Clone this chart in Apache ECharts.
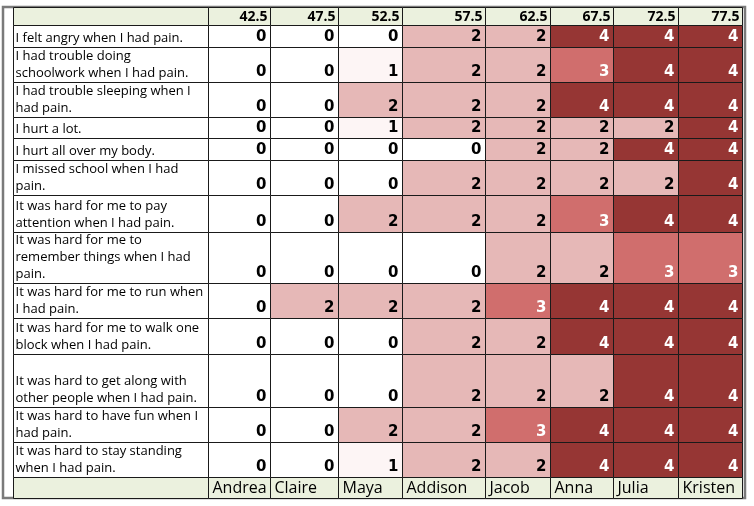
<!DOCTYPE html>
<html><head><meta charset="utf-8">
<script src="https://cdn.jsdelivr.net/npm/echarts@6/dist/echarts.min.js"></script>
<style>html,body{margin:0;padding:0;background:#fff}#c{width:754px;height:506px}</style>
</head><body><div id="c"></div>
<script>
// ---- data ----
const names = ['Andrea','Claire','Maya','Addison','Jacob','Anna','Julia','Kristen'];
const tickLabels = ['42.5','47.5','52.5','57.5','62.5','67.5','72.5','77.5'];
const items = [
  'I felt angry when I had pain.',
  'I had trouble doing\nschoolwork when I had pain.',
  'I had trouble sleeping when I\nhad pain.',
  'I hurt a lot.',
  'I hurt all over my body.',
  'I missed school when I had\npain.',
  'It was hard for me to pay\nattention when I had pain.',
  'It was hard for me to\nremember things when I had\npain.',
  'It was hard for me to run when\nI had pain.',
  'It was hard for me to walk one\nblock when I had pain.',
  'It was hard to get along with\nother people when I had pain.',
  'It was hard to have fun when I\nhad pain.',
  'It was hard to stay standing\nwhen I had pain.'
];
const angry      = [0,0,0,2,2,4,4,4];
const schoolwork = [0,0,1,2,2,3,4,4];
const sleeping   = [0,0,2,2,2,4,4,4];
const hurtLot    = [0,0,1,2,2,2,2,4];
const hurtAll    = [0,0,0,0,2,2,4,4];
const missed     = [0,0,0,2,2,2,2,4];
const attention  = [0,0,2,2,2,3,4,4];
const remember   = [0,0,0,0,2,2,3,3];
const run        = [0,2,2,2,3,4,4,4];
const walk       = [0,0,0,2,2,4,4,4];
const getAlong   = [0,0,0,2,2,2,4,4];
const fun        = [0,0,2,2,3,4,4,4];
const standing   = [0,0,1,2,2,4,4,4];
const scores = [angry,schoolwork,sleeping,hurtLot,hurtAll,missed,attention,remember,run,walk,getAlong,fun,standing];

// ---- layout (table geometry, in axis units) ----
const colWidths = [195,62,68,64,83,65,63,65,64];
const rowHeights = [18,22,35,35,21,22,35,37,51,35,36,53,35,35,21];
function edges(a){const e=[0];a.forEach(w=>e.push(e[e.length-1]+w));return e;}
const xE = edges(colWidths), yE = edges(rowHeights);
const colors = ['#ffffff','#fdf5f5','#e6b8b7','#d06e6d','#963634'];
const green = '#ebf1de';

function rectOf(api,c,r){
  const p0 = api.coord([xE[c], yE[r]]), p1 = api.coord([xE[c+1], yE[r+1]]);
  const x = Math.round(Math.min(p0[0],p1[0]))+0.5, y = Math.round(Math.min(p0[1],p1[1]))+0.5;
  return {x:x, y:y, width:Math.round(Math.abs(p1[0]-p0[0])), height:Math.round(Math.abs(p1[1]-p0[1]))};
}
const lineStroke = {stroke:'#1a1a1a', lineWidth:1};

const cellData = [];
scores.forEach((row,i)=>row.forEach((v,j)=>cellData.push([j,i,v])));
const headerData = tickLabels.map((t,j)=>[j,t]);
const footerData = names.map((n,j)=>[j,n]);
const labelData = items.map((t,i)=>[i,t]);

const option = {
  animation:false,
  grid:[{left:13,right:12,top:7,bottom:8,show:false},
        {left:3,right:9,top:7,bottom:8,show:true,borderColor:'#7a7a7a',borderWidth:2.5}],
  xAxis:[{type:'value',min:0,max:xE[xE.length-1],show:false,gridIndex:0},
         {type:'value',min:0,max:1,show:false,gridIndex:1}],
  yAxis:[{type:'value',min:0,max:yE[yE.length-1],inverse:true,show:false,gridIndex:0},
         {type:'value',min:0,max:1,show:false,gridIndex:1}],
  series:[
    {type:'custom', xAxisIndex:0, yAxisIndex:0, data:cellData, z:3,
     renderItem:function(params,api){
       const j=api.value(0), i=api.value(1), v=api.value(2);
       const r = rectOf(api,j+1,i+1);
       return {type:'group',children:[
         {type:'rect',shape:r,style:Object.assign({fill:colors[v]},lineStroke)},
         {type:'text',style:{text:String(v),x:r.x+r.width-4,y:r.y+r.height-3,align:'right',verticalAlign:'bottom',
           font:'bold 15px "DejaVu Sans"',fill:v>=3?'#ffffff':'#000000'}}
       ]};
     }},
    {type:'custom', xAxisIndex:0, yAxisIndex:0, data:headerData, z:3,
     renderItem:function(params,api){
       const j=api.value(0);
       const r = rectOf(api,j+1,0);
       return {type:'group',children:[
         {type:'rect',shape:r,style:Object.assign({fill:green},lineStroke)},
         {type:'text',style:{text:tickLabels[j],x:r.x+r.width-3,y:r.y+r.height/2+1,align:'right',verticalAlign:'middle',
           font:'bold 14px "Open Sans"',fill:'#000'}}
       ]};
     }},
    {type:'custom', xAxisIndex:0, yAxisIndex:0, data:footerData, z:3,
     renderItem:function(params,api){
       const j=api.value(0);
       const r = rectOf(api,j+1,rowHeights.length-1);
       return {type:'group',children:[
         {type:'rect',shape:r,style:Object.assign({fill:green},lineStroke)},
         {type:'text',style:{text:names[j],x:r.x+4,y:r.y+r.height/2,align:'left',verticalAlign:'middle',
           font:'16px "Open Sans"',fill:'#000'}}
       ]};
     }},
    {type:'custom', xAxisIndex:0, yAxisIndex:0, data:labelData, z:3,
     renderItem:function(params,api){
       const i=api.value(0);
       const r = rectOf(api,0,i+1);
       return {type:'group',children:[
         {type:'rect',shape:r,style:Object.assign({fill:'#fff'},lineStroke)},
         {type:'text',style:{text:items[i],x:r.x+2,y:r.y+r.height-1,align:'left',verticalAlign:'bottom',
           font:'13px "Open Sans"',lineHeight:17,fill:'#000'}}
       ]};
     }},
    {type:'custom', xAxisIndex:0, yAxisIndex:0, data:[[0],[1]], z:3,
     renderItem:function(params,api){
       const k=api.value(0);
       const r = rectOf(api,0,k===0?0:rowHeights.length-1);
       return {type:'rect',shape:r,style:Object.assign({fill:green},lineStroke)};
     }}
  ]
};
const chart = echarts.init(document.getElementById('c'),null,{renderer:'canvas'});
chart.setOption(option);
</script></body></html>
